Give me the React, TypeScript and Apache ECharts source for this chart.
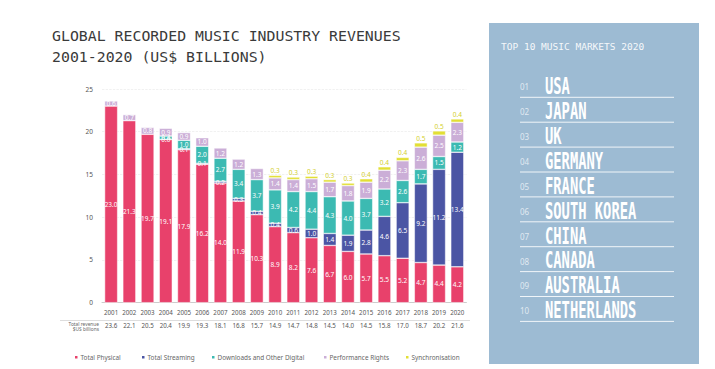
import React, { useEffect, useRef } from "react";
import * as echarts from "echarts";

const years = ["2001","2002","2003","2004","2005","2006","2007","2008","2009","2010","2011","2012","2013","2014","2015","2016","2017","2018","2019","2020"];
const physical = [23.0,21.3,19.7,19.1,17.9,16.2,14.0,11.9,10.3,8.9,8.2,7.6,6.7,6.0,5.7,5.5,5.2,4.7,4.4,4.2];
const streaming = [null,null,null,0.0,0.1,0.1,0.2,0.3,0.4,0.4,0.6,1.0,1.4,1.9,2.8,4.6,6.5,9.2,11.2,13.4];
const downloads = [null,null,null,0.4,1.0,2.0,2.7,3.4,3.7,3.9,4.2,4.4,4.3,4.0,3.7,3.2,2.6,1.7,1.5,1.2];
const performance = [0.6,0.7,0.8,0.9,0.9,1.0,1.2,1.2,1.3,1.4,1.4,1.5,1.7,1.8,1.9,2.2,2.3,2.6,2.5,2.3];
const synchronisation = [null,null,null,null,null,null,null,null,null,0.3,0.3,0.3,0.3,0.3,0.4,0.4,0.4,0.5,0.5,0.4];
const totals = ["23.6","22.1","20.5","20.4","19.9","19.3","18.1","16.8","15.7","14.9","14.7","14.8","14.5","14.0","14.5","15.8","17.0","18.7","20.2","21.6"];
const yTicks = [0, 5, 10, 15, 20, 25];
const seriesNames = ["Total Physical","Total Streaming","Downloads and Other Digital","Performance Rights","Synchronisation"];
const colors = ["#e8416b","#4b55a4","#3cbab2","#cbaed7","#e2df35"];
const markets = ["USA","JAPAN","UK","GERMANY","FRANCE","SOUTH KOREA","CHINA","CANADA","AUSTRALIA","NETHERLANDS"];
const marketRanks = ["01","02","03","04","05","06","07","08","09","10"];

const FONT = "'Noto Sans', sans-serif";
const MONO = "'DejaVu Sans Mono', monospace";

export default function App() {
  const ref = useRef<HTMLDivElement>(null);
  useEffect(() => {
    if (!ref.current) return;
    const chart = echarts.init(ref.current, undefined, { renderer: "svg" });
    const fmt = (p: any) => (p.value == null ? "" : Number(p.value).toFixed(1));
    const dataSets = [physical, streaming, downloads, performance, synchronisation];
    const series = dataSets.map((d, i) => ({
      name: seriesNames[i],
      type: "bar",
      stack: "total",
      barWidth: 13,
      data: d,
      itemStyle: { color: colors[i], borderColor: "#ffffff", borderWidth: 0.5 },
      label: i === 4
        ? { show: true, position: "top", distance: 1, color: "#d3cf2e", fontSize: 6.5, fontFamily: FONT, formatter: fmt }
        : { show: true, position: "inside", color: "#ffffff", fontSize: 6.5, fontFamily: FONT, formatter: fmt },
    }));
    const legendLefts = [68, 135, 205, 317, 399];
    const legends = seriesNames.map((n, i) => ({
      data: [n],
      left: legendLefts[i],
      top: 349,
      itemWidth: 4.5,
      itemHeight: 4.5,
      icon: "roundRect",
      textStyle: { fontSize: 6.4, color: "#666", fontFamily: FONT, padding: [0, 0, 0, -3] },
      selectedMode: false,
    }));
    const graphics: any[] = [
      { type: "text", x: 52, y: 36, scaleX: 1.1, style: { text: "GLOBAL RECORDED MUSIC INDUSTRY REVENUES", font: `13.5px ${MONO}`, fill: "#3a3a3a", verticalAlign: "middle" } },
      { type: "text", x: 52, y: 57.5, scaleX: 1.1, style: { text: "2001-2020 (US$ BILLIONS)", font: `13.5px ${MONO}`, fill: "#3a3a3a", verticalAlign: "middle" } },
      { type: "line", shape: { x1: 60, y1: 320.5, x2: 470, y2: 320.5 }, style: { stroke: "#dddddd", lineWidth: 1 } },
      { type: "text", x: 99, y: 324, style: { text: "Total revenue", font: `4.8px ${FONT}`, fill: "#666", align: "right", verticalAlign: "middle" } },
      { type: "text", x: 99, y: 329, style: { text: "$US billions", font: `4.8px ${FONT}`, fill: "#666", align: "right", verticalAlign: "middle" } },
      { type: "rect", shape: { x: 489, y: 23, width: 210, height: 341 }, style: { fill: "#9dbbd3" } },
      { type: "text", x: 501, y: 47, scaleX: 1.12, style: { text: "TOP 10 MUSIC MARKETS 2020", font: `8.5px ${MONO}`, fill: "rgba(255,255,255,0.92)", verticalAlign: "middle" } },
    ];
    markets.forEach((m, i) => {
      const cy = 85.7 + i * 24.9;
      graphics.push({ type: "text", x: 520, y: cy + 1, style: { text: marketRanks[i], font: `8px ${FONT}`, fill: "rgba(255,255,255,0.7)", verticalAlign: "middle" } });
      graphics.push({ type: "text", x: 545, y: cy, scaleX: 0.6, style: { text: m, font: `bold 23px ${MONO}`, fill: "#ffffff", verticalAlign: "middle" } });
      graphics.push({ type: "line", shape: { x1: 520, y1: cy + 11.6, x2: 674, y2: cy + 11.6 }, style: { stroke: "rgba(255,255,255,0.85)", lineWidth: 1 } });
    });
    chart.setOption({
      animation: false,
      textStyle: { fontFamily: FONT },
      grid: { left: 102, right: 248.6, top: 89, bottom: 66.3 },
      legend: legends,
      xAxis: [
        {
          type: "category",
          data: years,
          axisTick: { show: false },
          axisLine: { lineStyle: { color: "#cccccc", width: 1 } },
          axisLabel: { fontSize: 6.2, color: "#555", margin: 7, fontFamily: FONT, interval: 0 },
        },
        {
          type: "category",
          position: "bottom",
          offset: 12,
          data: totals,
          axisTick: { show: false },
          axisLine: { show: false },
          axisLabel: { fontSize: 6.2, color: "#555", margin: 8, fontFamily: FONT, interval: 0 },
        },
      ],
      yAxis: {
        type: "value",
        min: yTicks[0],
        max: yTicks[yTicks.length - 1],
        interval: 5,
        axisLabel: { fontSize: 6.5, color: "#555", margin: 9, fontFamily: FONT },
        splitLine: { lineStyle: { color: "#e8e8e8", type: "dashed", width: 0.6 } },
        axisLine: { show: false },
        axisTick: { show: false },
      },
      series,
      graphic: graphics,
    });
    return () => chart.dispose();
  }, []);
  return (
    <div
      ref={ref}
      style={{ position: "fixed", left: 0, top: 0, width: 715, height: 369, background: "#ffffff" }}
    />
  );
}
